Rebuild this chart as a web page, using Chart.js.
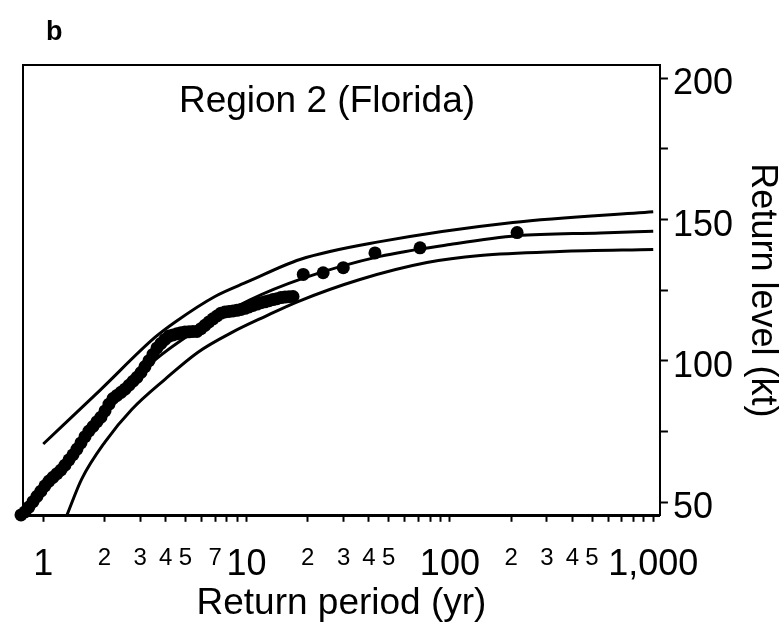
<!DOCTYPE html>
<html lang="en">
<head>
<meta charset="UTF-8" />
<title>Return level - Region 2 (Florida)</title>
<script src="https://cdn.jsdelivr.net/npm/chart.js"></script>
<style>
  body { margin: 0; background: #fff; }
  canvas { display: block; }
</style>
</head>
<body>
<canvas id="rlChart" width="782" height="629"></canvas>
<script>
const obsPeriod = [0.777, 0.813, 0.850, 0.890, 0.931, 0.974, 1.019, 1.067, 1.116, 1.168, 1.222,
    1.279, 1.338, 1.400, 1.465, 1.532, 1.604, 1.678, 1.756, 1.837, 1.922,
    2.012, 2.105, 2.202, 2.304, 2.411, 2.523, 2.640, 2.762, 2.890,
    3.024, 3.164, 3.311, 3.464, 3.625, 3.793, 3.969,
    4.153, 4.345, 4.547, 4.757, 4.977, 5.208, 5.449, 5.702, 5.966,
    6.242, 6.531, 6.834, 7.150, 7.481, 7.828, 8.190, 8.570, 8.967, 9.385, 9.82,
    10.27, 10.75, 11.25, 11.77, 12.31, 12.89, 13.49, 14.11, 14.76, 15.45, 16.17, 16.92,
    19.0, 23.8, 29.9, 42.8, 71.3, 214];
const obsLevel = [45.5, 46.6, 48.3, 50.2, 52.1, 53.9, 55.8, 57.5, 58.8, 60.1, 61.4,
    63.1, 65.0, 66.8, 68.8, 71.0, 73.2, 75.2, 76.8, 78.5, 80.1,
    82.3, 84.7, 86.7, 87.8, 88.9, 90.0, 91.4, 92.8, 94.2,
    95.9, 98.0, 100.1, 102.3, 104.6, 106.2, 107.6,
    108.8, 109.2, 109.6, 110.0, 110.2, 110.3, 110.4, 110.4, 111.4,
    112.6, 113.8, 114.9, 115.9, 116.9, 117.3, 117.5, 117.7, 117.9, 118.2, 118.6,
    119.1, 119.6, 120.1, 120.6, 120.9, 121.3, 121.7, 122.0, 122.4, 122.6, 122.7, 122.8,
    130.6, 131.2, 133.0, 138.2, 140.0, 145.4];

// fitted return level curve
const midPeriod = [1, 1.9, 3.27, 5.77, 10.4, 18.9, 45.3, 100, 214, 549, 1000];
const midLevel = [53.0, 78.9, 98.1, 111.2, 121.6, 129.2, 137.0, 141.2, 144.3, 145.3, 145.9];

// upper and lower confidence bounds
const upperPeriod = [1, 1.9, 3.54, 4.44, 6.99, 10.2, 18.3, 45.3, 204, 1000];
const upperLevel = [70.6, 89.6, 108.3, 113.7, 122.8, 128.1, 135.9, 142.2, 149.0, 152.8];
const lowerPeriod = [1.30, 1.545, 2.01, 2.73, 3.97, 5.77, 8.48, 12.3, 17.9, 36.1, 77.1, 141, 347, 1000];
const lowerLevel = [45.0, 58.2, 71.3, 82.9, 93.5, 103.1, 110.1, 115.7, 121.0, 128.8, 134.8, 137.3, 138.7, 139.4];

// axis ticks
const xTicks = [1, 2, 3, 4, 5, 6, 7, 8, 9, 10, 20, 30, 40, 50, 60, 70, 80, 90,
    100, 200, 300, 400, 500, 600, 700, 800, 900, 1000];
const xMajor = [1, 10, 100, 1000];
const xTickLabels = {1: '1', 2: '2', 3: '3', 4: '4', 5: '5', 7: '7', 10: '10',
    20: '2', 30: '3', 40: '4', 50: '5', 100: '100',
    200: '2', 300: '3', 400: '4', 500: '5', 1000: '1,000'};
const yTicks = [50, 75, 100, 125, 150, 175, 200];
const yTickLabels = {50: '50', 100: '100', 150: '150', 200: '200'};

const FONT = '"Liberation Sans", Arial, sans-serif';

function toXY(xs, ys) {
    return xs.map((x, i) => ({ x: x, y: ys[i] }));
}

function curve(xs, ys) {
    return {
        type: 'line',
        data: toXY(xs, ys),
        showLine: true,
        borderColor: '#000',
        borderWidth: 3,
        pointRadius: 0,
        cubicInterpolationMode: 'monotone',
        fill: false,
        clip: 0
    };
}

// top/left frame lines plus the panel letter and region label
const framePlugin = {
    id: 'frame',
    beforeDatasetsDraw(chart) {
        const { ctx, chartArea: a } = chart;
        ctx.save();
        ctx.strokeStyle = '#000';
        ctx.lineWidth = 2;
        ctx.beginPath();
        ctx.moveTo(a.left, a.bottom);
        ctx.lineTo(a.left, a.top);
        ctx.lineTo(a.right, a.top);
        ctx.stroke();
        ctx.restore();
    },
    afterDraw(chart) {
        const { ctx, chartArea: a } = chart;
        ctx.save();
        ctx.fillStyle = '#000';
        ctx.textBaseline = 'alphabetic';
        ctx.font = 'bold 27px ' + FONT;
        ctx.textAlign = 'left';
        ctx.fillText('b', 46, 40);
        ctx.font = '37px ' + FONT;
        ctx.textAlign = 'center';
        ctx.fillText('Region 2 (Florida)', a.left + 304, a.top + 47);
        ctx.restore();
    }
};

const ctx = document.getElementById('rlChart').getContext('2d');

new Chart(ctx, {
    type: 'scatter',
    data: {
        datasets: [
            {
                data: toXY(obsPeriod, obsLevel),
                pointRadius: 6.5,
                pointBackgroundColor: '#000',
                pointBorderWidth: 0,
                clip: false
            },
            curve(upperPeriod, upperLevel),
            curve(midPeriod, midLevel),
            curve(lowerPeriod, lowerLevel)
        ]
    },
    options: {
        responsive: false,
        animation: false,
        layout: { padding: { left: 23, top: 65, right: 2, bottom: 3 } },
        plugins: {
            legend: { display: false },
            tooltip: { enabled: false }
        },
        scales: {
            x: {
                type: 'logarithmic',
                position: 'bottom',
                min: 0.795,
                max: 1079,
                afterBuildTicks: (scale) => {
                    scale.ticks = xTicks.map(v => ({ value: v }));
                },
                ticks: {
                    autoSkip: false,
                    maxRotation: 0,
                    minRotation: 0,
                    padding: 22,
                    color: '#000',
                    font: (c) => (c.tick && xMajor.includes(c.tick.value))
                        ? { family: FONT, size: 36 }
                        : { family: FONT, size: 24 },
                    callback: (v) => xTickLabels[v] ?? ''
                },
                grid: {
                    drawOnChartArea: false,
                    drawTicks: true,
                    tickLength: 6,
                    tickWidth: 2,
                    tickColor: '#000'
                },
                border: { color: '#000', width: 3 },
                title: {
                    display: true,
                    text: 'Return period (yr)',
                    color: '#000',
                    font: { family: FONT, size: 37, lineHeight: 1 },
                    padding: { top: -24, bottom: 4 }
                }
            },
            y: {
                type: 'linear',
                position: 'right',
                min: 45.2,
                max: 204.7,
                afterBuildTicks: (scale) => {
                    scale.ticks = yTicks.map(v => ({ value: v }));
                },
                ticks: {
                    padding: 5,
                    labelOffset: 6,
                    color: '#000',
                    font: { family: FONT, size: 36 },
                    callback: (v) => yTickLabels[v] ?? ''
                },
                grid: {
                    drawOnChartArea: false,
                    drawTicks: true,
                    tickLength: 8,
                    tickWidth: 2,
                    tickColor: '#000'
                },
                border: { color: '#000', width: 2 },
                title: {
                    display: true,
                    text: 'Return level (kt)',
                    color: '#000',
                    font: { family: FONT, size: 36, lineHeight: 1 },
                    padding: { top: 0, bottom: 6 }
                }
            }
        }
    },
    plugins: [framePlugin]
});
</script>
</body>
</html>
